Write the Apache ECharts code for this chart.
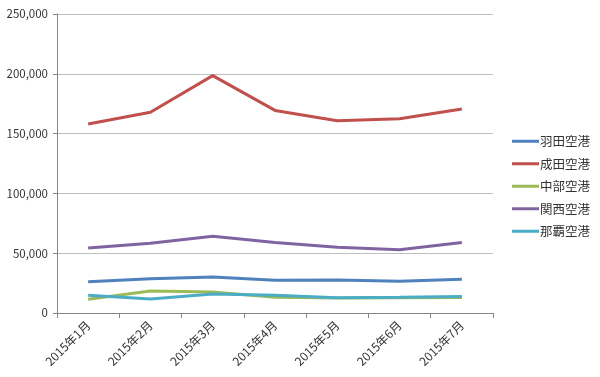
<!DOCTYPE html>
<html>
<head>
<meta charset="utf-8">
<script src="https://cdn.jsdelivr.net/npm/echarts@6/dist/echarts.min.js"></script>
<style>
  html, body { margin: 0; padding: 0; background: #fff; }
  #chart { width: 600px; height: 377px; }
</style>
</head>
<body>
<div id="chart"></div>
<script>
const months = ["2015年1月", "2015年2月", "2015年3月", "2015年4月", "2015年5月", "2015年6月", "2015年7月"];
const haneda = [26200, 28700, 30200, 27400, 27500, 26500, 28200];
const narita = [158000, 167800, 198500, 169400, 160800, 162400, 170600];
const chubu = [11500, 18400, 17600, 13100, 12600, 12700, 13000];
const kansai = [54400, 58300, 64200, 58900, 55000, 52800, 58900];
const naha = [14800, 11700, 15900, 14800, 12800, 13100, 13700];

const seriesDefs = [
  { name: "羽田空港", data: haneda, color: "#4F81BD" },
  { name: "成田空港", data: narita, color: "#C0504D" },
  { name: "中部空港", data: chubu, color: "#9BBB59" },
  { name: "関西空港", data: kansai, color: "#8064A2" },
  { name: "那覇空港", data: naha, color: "#4BACC6" },
];

const chart = echarts.init(document.getElementById("chart"));
const font = "'Noto Sans CJK JP', 'DejaVu Sans', sans-serif";

chart.setOption({
  animation: false,
  grid: { left: 57, right: 107, top: 14, bottom: 64 },
  legend: {
    orient: "vertical",
    left: 507,
    top: 130,
    itemWidth: 27,
    itemHeight: 3,
    itemGap: 10,
    icon: "rect",
    textStyle: { fontFamily: font, fontSize: 12.5, color: "#333", padding: [0, 0, 0, -4] },
    data: seriesDefs.map((s) => s.name),
  },
  xAxis: {
    type: "category",
    data: months,
    boundaryGap: true,
    axisLine: { lineStyle: { color: "#868686", width: 1 } },
    axisTick: { show: true, length: 5, alignWithLabel: false, lineStyle: { color: "#868686" } },
    axisLabel: { rotate: 45, fontFamily: font, fontSize: 12, color: "#333", margin: 10 },
  },
  yAxis: {
    type: "value",
    min: 0,
    max: 250000,
    interval: 50000,
    axisLine: { show: true, lineStyle: { color: "#868686" } },
    axisTick: { show: true, length: 4, lineStyle: { color: "#868686" } },
    splitLine: { lineStyle: { color: "#BFBFBF", width: 1 } },
    axisLabel: {
      fontFamily: font,
      fontSize: 11.5,
      color: "#333",
      margin: 9,
      formatter: (v) => v.toLocaleString("en-US"),
    },
  },
  series: seriesDefs.map((s) => ({
    name: s.name,
    type: "line",
    data: s.data,
    symbol: "none",
    color: s.color,
    lineStyle: { width: 3, color: s.color },
  })),
});
</script>
</body>
</html>
